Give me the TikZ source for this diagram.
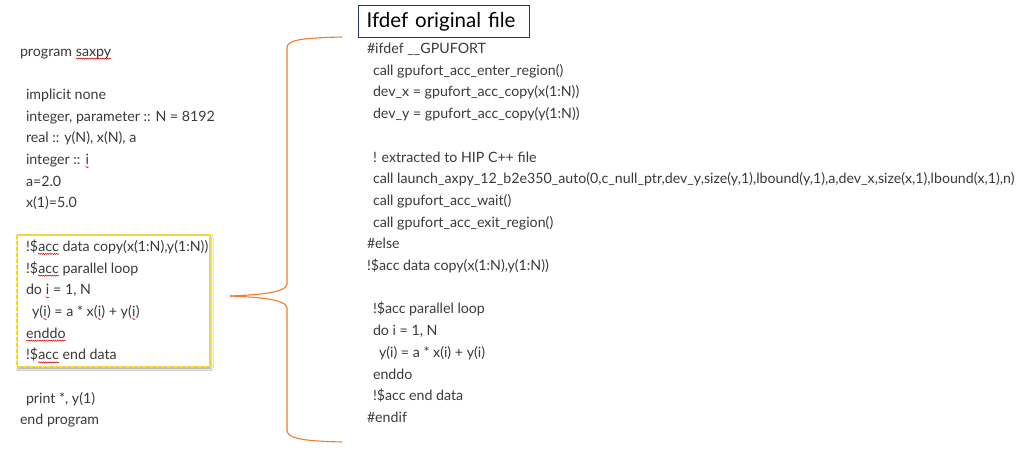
\documentclass[tikz,border=0pt]{standalone}
\usepackage{fontspec}
\setmainfont{Lato}
\usetikzlibrary{decorations.pathmorphing,shadows.blur}
\definecolor{txt}{HTML}{3A3A3A}
\definecolor{brace}{HTML}{ED7D31}
\definecolor{navy}{HTML}{1F3864}
\definecolor{ywl}{HTML}{FFDC00}
\newcommand\codefont{\fontsize{14.2}{17}\selectfont}
\newcommand\sq[1]{\tikz[baseline=(sqw.base)]{\node[inner sep=0pt,outer sep=0pt] (sqw) {#1};
  \draw[red!85!black,line width=0.5pt,decorate,decoration={snake,amplitude=0.6pt,segment length=2.2pt}]
  ([yshift=-2.6pt]sqw.base west) -- ([yshift=-2.6pt]sqw.base east);}}
\begin{document}
\begin{tikzpicture}[x=1pt,y=-1pt,
  code/.style={anchor=base west,inner sep=0pt,outer sep=0pt,text=txt,font=\codefont},
  bracestyle/.style={draw=brace,line width=1.1pt},
  titlebox/.style={draw=navy,line width=1.3pt,anchor=north west,minimum width=171pt,minimum height=32pt,
     inner sep=0pt,text=black,font=\fontsize{20.5}{24}\selectfont,align=left,text width=155pt,inner xsep=8pt}]
\useasboundingbox (0,0) rectangle (1021,464);
\fill[white] (0,0) rectangle (1021,464);
% left code
\def\lb#1{\fpeval{56+21.7*#1}}
\node[code] (l0) at (20,\lb{0}) {program \sq{saxpy}};
\node[code] (l2) at (26,\lb{2}) {implicit none};
\node[code] (l3) at (26,\lb{3}) {integer, parameter :: N = 8192};
\node[code] (l4) at (26,\lb{4}) {real :: y(N), x(N), a};
\node[code] (l5) at (26,\lb{5}) {integer :: \sq{i}};
\node[code] (l6) at (26,\lb{6}) {a=2.0};
\node[code] (l7) at (26,\lb{7}) {x(1)=5.0};
% highlighted box
\node[draw=black!18,line width=0.8pt,fill=white,blur shadow={shadow blur steps=8,shadow blur radius=2.5pt,shadow xshift=1.2pt,shadow yshift=-1.8pt,shadow opacity=45},
  minimum width=192pt,minimum height=131pt,anchor=north west,inner sep=0pt] (hl) at (17,235) {};
\draw[ywl,line width=1.4pt,dash pattern=on 4pt off 2pt] (hl.north west) rectangle (hl.south east);
\node[code] (l9) at (26,\lb{9}) {!\$\sq{acc} data copy(x(1:N),y(1:N))};
\node[code] (l10) at (26,\lb{10}) {!\$\sq{acc} parallel loop};
\node[code] (l11) at (26,\lb{11}) {do \sq{i} = 1, N};
\node[code] (l12) at (32,\lb{12}) {y(\sq{i}) = a * x(\sq{i}) + y(\sq{i})};
\node[code] (l13) at (26,\lb{13}) {\sq{enddo}};
\node[code] (l14) at (26,\lb{14}) {!\$\sq{acc} end data};
\node[code] (l16) at (26,\lb{16}) {print *, y(1)};
\node[code] (l17) at (20,\lb{17}) {end program};
% right code
\def\rb#1{\fpeval{53.5+21.7*#1}}
\node[titlebox] (title) at (358,5) {Ifdef original file};
\node[code] (r0) at (367,\rb{0}) {\#ifdef \_\_GPUFORT};
\node[code] (r1) at (373,\rb{1}) {call gpufort\_acc\_enter\_region()};
\node[code] (r2) at (373,\rb{2}) {dev\_x = gpufort\_acc\_copy(x(1:N))};
\node[code] (r3) at (373,\rb{3}) {dev\_y = gpufort\_acc\_copy(y(1:N))};
\node[code] (r5) at (373,\rb{5}) {! extracted to HIP C++ file};
\node[code] (r6) at (373,\rb{6}) {call launch\_axpy\_12\_b2e350\_auto(0,c\_null\_ptr,dev\_y,size(y,1),lbound(y,1),a,dev\_x,size(x,1),lbound(x,1),n)};
\node[code] (r7) at (373,\rb{7}) {call gpufort\_acc\_wait()};
\node[code] (r8) at (373,\rb{8}) {call gpufort\_acc\_exit\_region()};
\node[code] (r9) at (367,\rb{9}) {\#else};
\node[code] (r10) at (367,\rb{10}) {!\$acc data copy(x(1:N),y(1:N))};
\node[code] (r12) at (373,\rb{12}) {!\$acc parallel loop};
\node[code] (r13) at (373,\rb{13}) {do i = 1, N};
\node[code] (r14) at (379,\rb{14}) {y(i) = a * x(i) + y(i)};
\node[code] (r15) at (373,\rb{15}) {enddo};
\node[code] (r16) at (373,\rb{16}) {!\$acc end data};
\node[code] (r17) at (367,\rb{17}) {\#endif};
% brace
\coordinate (btop) at (342,37);
\coordinate (btip) at (230,296);
\coordinate (bbot) at (342,442);
\draw[bracestyle] (btop) .. controls (300,38) and (287,40) .. (287,48) -- (287,284)
  .. controls (287,293) and (255,295) .. (btip);
\draw[bracestyle] (btip) .. controls (255,297) and (287,299) .. (287,308) -- (287,430)
  .. controls (287,438) and (300,441) .. (bbot);
\end{tikzpicture}
\end{document}
